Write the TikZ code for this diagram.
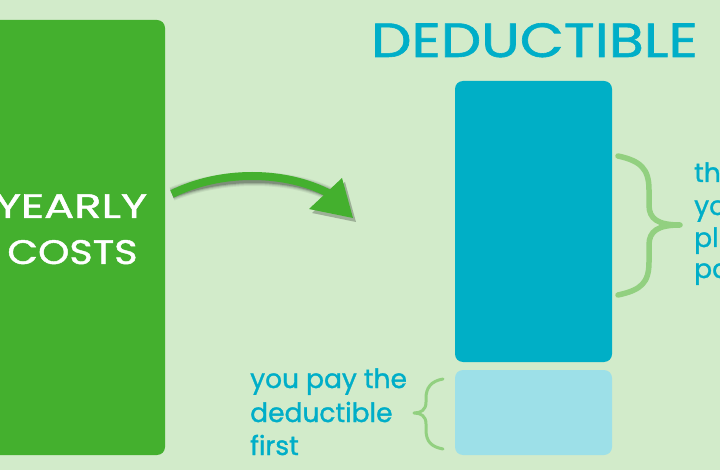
\documentclass[tikz,border=0pt]{standalone}
\usepackage{fontspec}
\setmainfont{Poppins}[FakeBold=1.2]
\definecolor{bg}{RGB}{210,235,202}
\definecolor{boxgreen}{RGB}{68,176,46}
\definecolor{teal}{RGB}{0,175,198}
\definecolor{lightteal}{RGB}{157,224,232}
\definecolor{tealtext}{RGB}{0,174,200}
\definecolor{bracegreen}{RGB}{146,208,128}
\tikzset{
  bar/.style={rectangle, rounded corners=8pt, inner sep=0pt, draw=none},
  bigtxt/.style={inner sep=0pt, text=white, font=\fontsize{34}{40}\selectfont},
  titletxt/.style={inner sep=0pt, text=tealtext, font=\fontsize{48}{56}\selectfont},
  bodytxt/.style={inner sep=0pt, text=tealtext, font=\fontsize{26.5}{30}\selectfont, anchor=base west},
  brace/.style={draw=bracegreen, line cap=round, line join=round},
  arrowbody/.style={draw=boxgreen, line width=8pt},
}
\begin{document}
\begin{tikzpicture}[x=1pt,y=-1pt]
\clip (0,0) rectangle (720,470);
\fill[bg] (0,0) rectangle (720,470);
% bars
\node[bar, fill=boxgreen, minimum width=200pt, minimum height=435pt] (costs) at (65,237.5) {};
\node[bar, fill=teal, minimum width=157pt, minimum height=281pt] (rest) at (533.5,221.5) {};
\node[bar, fill=lightteal, minimum width=157pt, minimum height=85pt] (ded) at (533.5,412.5) {};
% texts
\node[bigtxt, anchor=base] (yearly) at (71,218) {\scalebox{1.32}[1]{YEARLY}};
\node[bigtxt, anchor=base] (coststxt) at (72.5,264) {\scalebox{1.17}[1]{COSTS}};
\node[titletxt, anchor=base] (title) at (534.5,57) {\scalebox{1.19}[1]{DEDUCTIBLE}};
\node[bodytxt] (r1) at (694,182) {th};
\node[bodytxt] (r2) at (694,215) {yo};
\node[bodytxt] (r3) at (694,247) {pl};
\node[bodytxt] (r4) at (694,278) {pa};
\node[bodytxt] (l1) at (250,388) {you pay the};
\node[bodytxt] (l2) at (250,422) {deductible};
\node[bodytxt] (l3) at (250,455) {first};
% arrow
\coordinate (a0) at (172,194);
\coordinate (a1) at (330,194);
\begin{scope}[shift={(3,4)}]
  \foreach \w/\o in {14/0.06,12/0.08,10/0.12,8/0.2}{
    \draw[line width=\w pt, black, opacity=\o] (a0) .. controls (220,170) and (285,170) .. (a1);
  }
  \fill[black, opacity=0.25] (342,178) -- (353,218) -- (309,209) -- cycle;
\end{scope}
\draw[arrowbody] (a0) .. controls (220,170) and (285,170) .. (a1);
\fill[boxgreen] (342,178) -- (353,218) -- (309,209) -- cycle;
% braces
\draw[brace, line width=5.5pt] (618,156) .. controls (641,161) and (649,169) .. (649,190) -- (649,205)
  .. controls (649,219) and (658,225) .. (680,225)
  .. controls (658,225) and (649,231) .. (649,245) -- (649,262)
  .. controls (649,283) and (641,290) .. (618,295);
\draw[brace, line width=3pt] (443,379) .. controls (431,381) and (426,388) .. (426,398) -- (426,402)
  .. controls (426,410) and (421,413) .. (414,413)
  .. controls (421,413) and (426,416) .. (426,424) -- (426,430)
  .. controls (426,442) and (432,447) .. (443,449);
\end{tikzpicture}
\end{document}
